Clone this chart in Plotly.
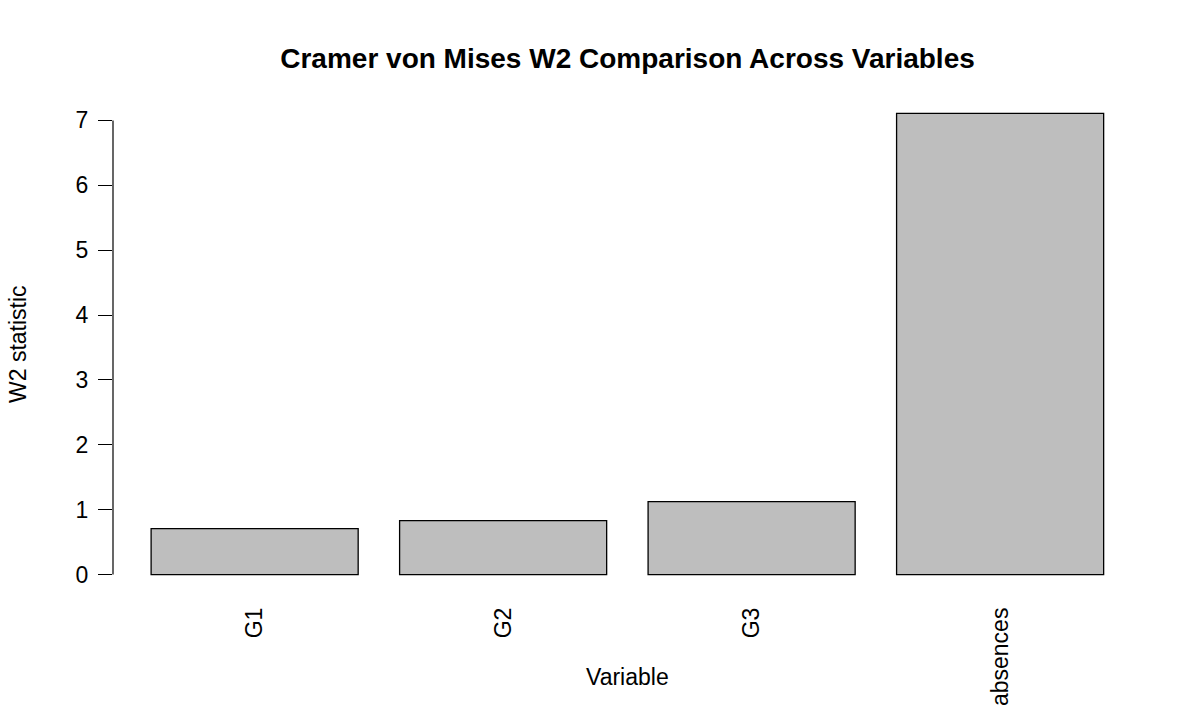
import plotly.graph_objects as go

categories = ["G1", "G2", "G3", "absences"]
w2_values = [0.709, 0.833, 1.125, 7.108]
y_ticks = [0, 1, 2, 3, 4, 5, 6, 7]

FONT = "Liberation Sans, Arial, sans-serif"

fig = go.Figure()
fig.add_trace(go.Bar(
    x=categories, y=w2_values,
    marker=dict(color="#BEBEBE", line=dict(color="black", width=1.3)),
    width=0.8333,
))

fig.update_layout(
    width=1200, height=720,
    margin=dict(l=113, r=58, t=95, b=127),
    paper_bgcolor="white", plot_bgcolor="white",
    showlegend=False,
    font=dict(family=FONT, color="black"),
    title=dict(
        text="<b>Cramer von Mises W2 Comparison Across Variables</b>",
        font=dict(family=FONT, size=28, color="black"),
        x=0.5, xref="paper", xanchor="center",
        y=1 - 58 / 720, yref="container", yanchor="middle",
    ),
    xaxis=dict(
        range=[-0.570, 3.571], showgrid=False, zeroline=False, showline=False,
        ticks="", tickangle=-90, tickfont=dict(size=23, family=FONT),
        automargin=False, ticklabelstandoff=9,
    ),
    yaxis=dict(
        range=[-0.284, 7.392], showgrid=False, zeroline=False, showline=False,
        tickvals=y_ticks, ticktext=[str(v) for v in y_ticks],
        ticks="outside", ticklen=14, tickwidth=1.2, tickcolor="black",
        tickfont=dict(size=23, family=FONT), automargin=False,
        ticklabelstandoff=5,
    ),
    annotations=[
        dict(text="Variable", xref="paper", yref="paper", x=0.5, y=-(677 - 593) / 498,
             xanchor="center", yanchor="middle", showarrow=False,
             font=dict(size=23, family=FONT)),
        dict(text="W2 statistic", xref="paper", yref="paper", x=-(113 - 18) / 1029,
             y=0.5, xanchor="center", yanchor="middle", showarrow=False,
             textangle=-90, font=dict(size=23, family=FONT)),
    ],
    shapes=[
        dict(type="line", xref="paper", yref="y", x0=0, x1=0, y0=y_ticks[0], y1=y_ticks[-1],
             line=dict(color="black", width=1.2)),
    ],
)

fig.write_html("out.html")
